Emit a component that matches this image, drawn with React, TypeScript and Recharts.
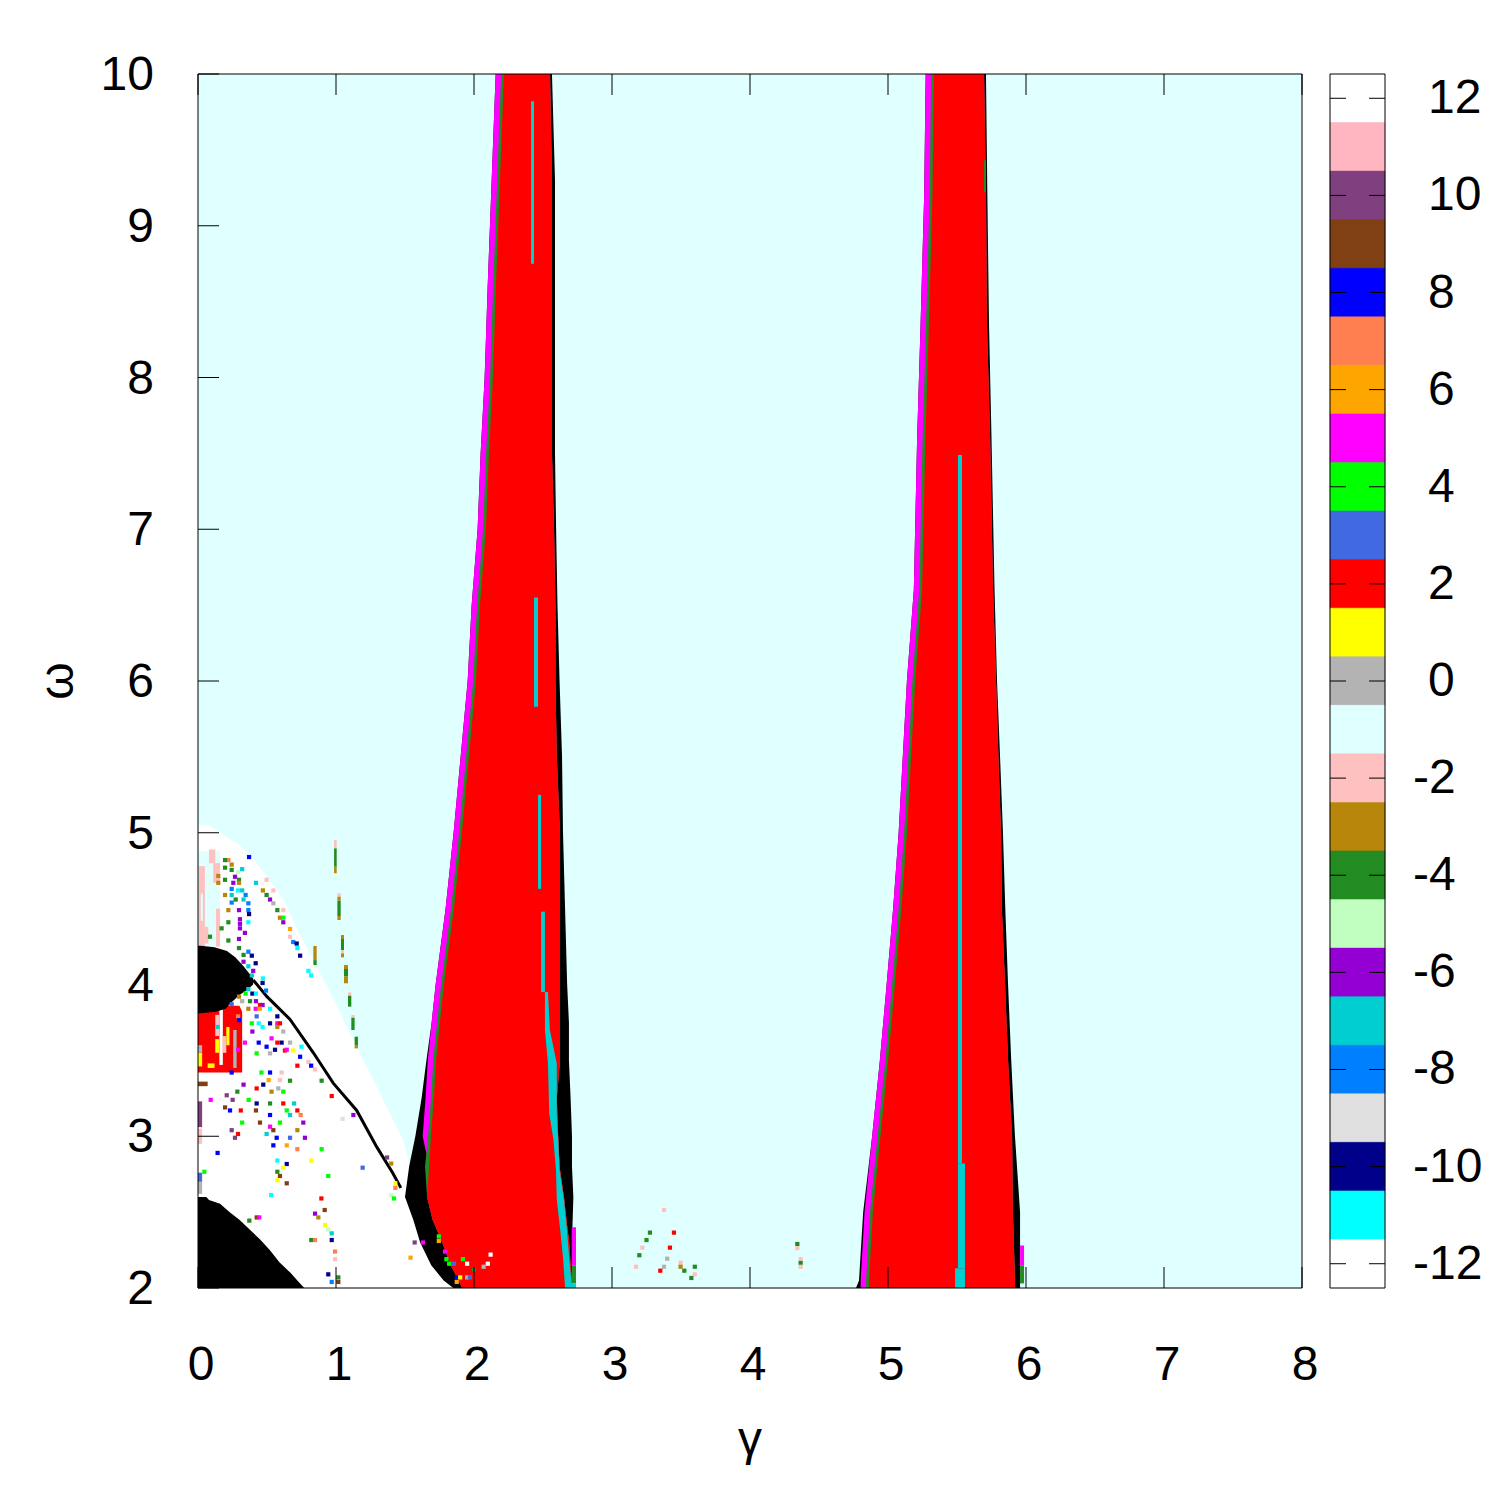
import React from 'react';
import { ComposedChart, Area, Line, Scatter, XAxis, YAxis, BarChart, Bar, Cell } from 'recharts';

const FONT = '"Liberation Sans", Arial, Helvetica, sans-serif';

const xTicks = [0, 1, 2, 3, 4, 5, 6, 7, 8];
const yTicks = [2, 3, 4, 5, 6, 7, 8, 9, 10];

// colour-bar values and their colours
const paletteValues = [12, 11, 10, 9, 8, 7, 6, 5, 4, 3, 2, 1, 0, -1, -2, -3, -4, -5, -6, -7, -8, -9, -10, -11, -12];
const paletteColors = ['#ffffff', '#ffb6c1', '#804080', '#804014', '#0000ff', '#ff7f50', '#ffa500', '#ff00ff', '#00ff00', '#4169e1', '#ff0000', '#ffff00', '#b3b3b3', '#e0ffff', '#ffc0c0', '#b8860b', '#228b22', '#c0ffc0', '#9400d3', '#00ced1', '#0080ff', '#e0e0e0', '#00008b', '#00ffff', '#ffffff'];
const OUT = 99; // value outside the colour range, drawn black
const colorOf = (v: number) => {
  const i = paletteValues.indexOf(v);
  return i >= 0 ? paletteColors[i] : '#000000';
};

// ---- regions: rows of omega with gamma extent [lo, hi] ----
const bgOmega = [10, 2];
const bgLo = [0, 0];
const bgHi = [8, 8];

const whiteOmega = [5.05, 5.0, 4.92, 4.83, 4.71, 4.56, 4.36, 4.21, 4.03, 3.85, 3.68, 3.5, 3.32, 3.15, 2.97, 2.82, 2.6, 2.0];
const whiteLo = [0, 0, 0, 0, 0, 0, 0, 0, 0, 0, 0, 0, 0, 0, 0, 0, 0, 0];
const whiteHi = [0.08, 0.16, 0.3, 0.4, 0.5, 0.62, 0.72, 0.81, 0.91, 1.01, 1.1, 1.2, 1.3, 1.39, 1.49, 1.53, 1.62, 1.95];

const patchOmega = [4.88, 4.25];
const patchLo = [0, 0];
const patchHi = [0.16, 0.16];

const triOmega = [2.6, 2.58, 2.555, 2.5, 2.45, 2.38, 2.32, 2.25, 2.17, 2.1, 2.05, 2.0];
const triLo = [0, 0, 0, 0, 0, 0, 0, 0, 0, 0, 0, 0];
const triHi = [0.06, 0.08, 0.16, 0.23, 0.3, 0.38, 0.45, 0.52, 0.59, 0.67, 0.72, 0.77];

const redPatchOmega = [3.86, 3.82, 3.42];
const redPatchLo = [0.13, 0, 0];
const redPatchHi = [0.3, 0.32, 0.32];

const blobOmega = [4.255, 4.245, 4.22, 4.18, 4.12, 4.04, 4.0, 3.96, 3.93, 3.88, 3.84, 3.82, 3.81];
const blobLo = [0, 0, 0, 0, 0, 0, 0, 0, 0, 0, 0, 0, 0];
const blobHi = [0.02, 0.12, 0.21, 0.27, 0.33, 0.4, 0.4, 0.35, 0.3, 0.24, 0.2, 0.13, 0.02];

// first tongue
const w1Omega = [10, 9.3, 8.6, 8.0, 7.5, 7.0, 6.5, 6.0, 5.5, 5.0, 4.5, 4.0, 3.75, 3.5, 3.25, 3.0, 2.8, 2.6, 2.45, 2.3, 2.15, 2.05, 2.0];
const w1BlackL = [2.157, 2.128, 2.099, 2.077, 2.048, 2.026, 1.983, 1.954, 1.903, 1.852, 1.794, 1.722, 1.693, 1.655, 1.62, 1.575, 1.53, 1.5, 1.56, 1.61, 1.69, 1.78, 1.85];
const w1MagL = [2.157, 2.128, 2.099, 2.077, 2.048, 2.026, 1.983, 1.954, 1.903, 1.852, 1.794, 1.722, 1.693, 1.665, 1.649, 1.628, 1.675, 1.66, 1.7, 1.77, 1.83, 1.89, 1.913];
const w1GreenL = [2.197, 2.168, 2.139, 2.117, 2.088, 2.066, 2.023, 1.994, 1.943, 1.892, 1.834, 1.762, 1.733, 1.705, 1.689, 1.668, 1.645, 1.66, 1.7, 1.77, 1.83, 1.89, 1.913];
const w1RedL = [2.217, 2.188, 2.159, 2.137, 2.108, 2.086, 2.043, 2.014, 1.963, 1.912, 1.854, 1.782, 1.753, 1.725, 1.709, 1.688, 1.675, 1.66, 1.7, 1.77, 1.83, 1.89, 1.913];
const w1RedR = [2.551, 2.565, 2.565, 2.565, 2.565, 2.58, 2.59, 2.59, 2.6, 2.623, 2.623, 2.623, 2.623, 2.623, 2.6, 2.61, 2.62, 2.652, 2.67, 2.69, 2.7, 2.71, 2.71];
const w1BlackR = [2.565, 2.587, 2.587, 2.587, 2.587, 2.595, 2.605, 2.62, 2.638, 2.645, 2.66, 2.675, 2.688, 2.688, 2.7, 2.71, 2.71, 2.72, 2.715, 2.71, 2.71, 2.71, 2.71];
const w1TealOmega = [3.95, 3.7, 3.48, 3.15, 2.98, 2.78, 2.58, 2.38, 2.2, 2.0];
const w1TealL = [2.514, 2.514, 2.536, 2.545, 2.575, 2.594, 2.6, 2.625, 2.645, 2.66];
const w1TealR = [2.536, 2.55, 2.6, 2.6, 2.61, 2.62, 2.652, 2.674, 2.69, 2.71];

// second tongue
const w2Omega = [10, 9.2, 8.35, 7.6, 6.6, 6.0, 5.5, 5.0, 4.5, 4.0, 3.5, 3.0, 2.5, 2.05, 2.0];
const w2BlackL = [5.273, 5.262, 5.236, 5.211, 5.187, 5.137, 5.107, 5.077, 5.037, 4.99, 4.941, 4.885, 4.82, 4.79, 4.768];
const w2MagL = [5.273, 5.262, 5.236, 5.211, 5.187, 5.137, 5.107, 5.077, 5.037, 4.99, 4.941, 4.885, 4.83, 4.802, 4.802];
const w2GreenL = [5.313, 5.302, 5.276, 5.251, 5.227, 5.177, 5.147, 5.117, 5.077, 5.03, 4.981, 4.925, 4.87, 4.842, 4.842];
const w2RedL = [5.333, 5.322, 5.296, 5.271, 5.247, 5.197, 5.167, 5.137, 5.097, 5.05, 5.001, 4.945, 4.89, 4.862, 4.862];
const w2RedR = [5.696, 5.71, 5.717, 5.74, 5.761, 5.783, 5.8, 5.819, 5.825, 5.848, 5.87, 5.899, 5.905, 5.92, 5.92];
const w2BlackR = [5.71, 5.72, 5.732, 5.75, 5.772, 5.79, 5.812, 5.833, 5.85, 5.87, 5.893, 5.92, 5.957, 5.957, 5.957];

// rectangular streaks: [gamma1, gamma2, omega1, omega2, value]
const patchStreaks = [
  [0.005, 0.05, 4.25, 4.78, -2], [0.08, 0.125, 4.8, 4.89, -2], [0.11, 0.16, 4.67, 4.8, -2],
  [0.13, 0.16, 4.25, 4.5, -2], [0.05, 0.075, 4.27, 4.38, -2], [0.02, 0.035, 4.42, 4.6, -1],
];
const redPatchStreaks = [
  [0.155, 0.18, 3.47, 3.84, -12], [0.125, 0.155, 3.66, 3.8, -2], [0.125, 0.155, 3.55, 3.64, 1],
  [0.205, 0.228, 3.6, 3.72, 1], [0.255, 0.28, 3.45, 3.7, 0], [0.18, 0.205, 3.55, 3.66, -2],
  [0.0, 0.03, 3.46, 3.55, 1], [0.0, 0.03, 3.55, 3.6, 0], [0.07, 0.12, 3.45, 3.48, 1],
];
const edgeStreaks = [
  [0.0, 0.03, 3.06, 3.23, 10], [0.0, 0.03, 2.95, 3.05, -2], [0.0, 0.07, 3.33, 3.36, 9],
  [0.0, 0.03, 2.62, 2.7, 0], [0.0, 0.03, 2.7, 2.76, 3],
];
const dashStreaks = [
  [0.986, 1.005, 4.897, 4.952, -2], [0.986, 1.005, 4.776, 4.897, -4], [0.986, 1.005, 4.733, 4.776, -3],
  [1.01, 1.034, 4.579, 4.601, -2], [1.01, 1.034, 4.552, 4.579, -3], [1.01, 1.034, 4.451, 4.552, -4], [1.01, 1.034, 4.425, 4.451, -3],
  [1.036, 1.058, 4.3, 4.326, -3], [1.036, 1.058, 4.227, 4.3, -4], [1.036, 1.058, 4.205, 4.227, -2], [1.036, 1.058, 4.179, 4.205, -3],
  [0.836, 0.86, 4.161, 4.254, -3], [0.836, 0.86, 4.128, 4.161, -4],
  [1.058, 1.087, 4.102, 4.128, -3], [1.058, 1.087, 4.052, 4.102, -4], [1.058, 1.087, 4.008, 4.052, -3],
  [1.087, 1.111, 3.926, 3.948, -2], [1.087, 1.111, 3.854, 3.926, -4],
  [1.111, 1.135, 3.781, 3.799, -2], [1.111, 1.135, 3.7, 3.781, -4],
  [1.135, 1.159, 3.601, 3.656, -4], [1.135, 1.159, 3.579, 3.601, -3],
];
const tongueStreaks = [
  [2.413, 2.435, 8.75, 9.82, -7], [2.435, 2.464, 5.83, 6.55, -7], [2.464, 2.486, 4.63, 5.25, -7], [2.486, 2.514, 3.95, 4.48, -7],
  [2.708, 2.739, 2.15, 2.4, 5], [2.708, 2.739, 2.03, 2.15, -4], [2.68, 2.739, 2.0, 2.03, -7],
  [5.507, 5.536, 2.82, 7.49, -7], [5.507, 5.558, 2.13, 2.82, -7], [5.486, 5.558, 2.0, 2.13, -7],
  [5.696, 5.71, 9.22, 9.43, -4], [5.957, 5.986, 2.15, 2.28, 5], [5.957, 5.986, 2.03, 2.15, -4],
];

// thin black curve
const lineOmega = [4.03, 3.92, 3.77, 3.55, 3.35, 3.17, 2.93, 2.76, 2.66];
const lineGamma = [0.4, 0.5, 0.667, 0.836, 0.98, 1.15, 1.295, 1.41, 1.47];

// isolated cells: [gamma, omega, value]
const cells = [
  [0.37, 4.84, 8], [0.22, 4.82, 7], [0.196, 4.82, -4], [0.244, 4.79, -3], [0.196, 4.77, -4], [0.244, 4.755, -4], [0.29, 4.74, -5], [0.32, 4.76, -7],
  [0.268, 4.71, -6], [0.147, 4.715, -3], [0.196, 4.69, -4], [0.297, 4.69, -4], [0.42, 4.67, -7], [0.497, 4.69, -2], [0.147, 4.67, -3], [0.256, 4.67, -6],
  [0.297, 4.67, -3], [0.244, 4.63, -8], [0.29, 4.62, -11], [0.32, 4.62, -7], [0.47, 4.62, -3], [0.546, 4.62, -2], [0.244, 4.59, -7], [0.345, 4.59, -8],
  [0.196, 4.59, -3], [0.497, 4.59, -4], [0.522, 4.56, -6], [0.273, 4.56, -4], [0.33, 4.56, -7], [0.365, 4.535, -8], [0.244, 4.54, -8], [0.546, 4.535, 0],
  [0.297, 4.49, -6], [0.365, 4.49, -8], [0.22, 4.49, -3], [0.575, 4.49, -4], [0.618, 4.49, -2], [0.37, 4.464, -10], [0.594, 4.44, -3], [0.618, 4.44, 4],
  [0.304, 4.43, -6], [0.365, 4.41, -11], [0.618, 4.41, -6], [0.304, 4.4, -6], [0.22, 4.41, -4], [0.667, 4.366, 6], [0.304, 4.37, -6], [0.34, 4.34, -6],
  [0.171, 4.37, -4], [0.667, 4.315, -2], [0.087, 4.315, -4], [0.297, 4.3, -6], [0.22, 4.29, -4], [0.69, 4.28, -8], [0.715, 4.27, -10], [0.72, 4.24, -11],
  [0.297, 4.24, -4], [0.365, 4.216, -8], [0.33, 4.195, -4], [0.39, 4.19, -10], [0.74, 4.19, -10], [0.33, 4.15, -6], [0.365, 4.12, -7], [0.418, 4.14, -10],
  [0.4, 4.09, -6], [0.8, 4.09, -11], [0.82, 4.06, -11], [0.39, 4.06, -7], [0.47, 4.04, -11], [0.468, 4.01, -10], [0.493, 3.96, -8], [0.365, 3.97, -7],
  [0.345, 3.94, 4], [0.394, 3.94, -10], [0.42, 3.94, -11], [0.297, 3.92, -3], [0.32, 3.89, 0], [0.377, 3.89, -4], [0.42, 3.89, -6], [0.244, 3.87, 3],
  [0.449, 3.865, 2], [0.468, 3.865, -6], [0.365, 3.84, -3], [0.418, 3.84, 5], [0.522, 3.84, -11], [0.449, 3.84, 6], [0.29, 3.79, 7], [0.425, 3.79, 3],
  [0.575, 3.79, -10], [0.297, 3.765, 8], [0.39, 3.744, 4], [0.44, 3.744, -11], [0.522, 3.744, -10], [0.575, 3.744, 5], [0.594, 3.744, 2], [0.142, 3.72, -7],
  [0.468, 3.72, -11], [0.575, 3.72, -3], [0.394, 3.69, -6], [0.618, 3.69, 0], [0.533, 3.645, 5], [0.575, 3.617, 2], [0.606, 3.617, -10], [0.34, 3.617, 5],
  [0.44, 3.617, 8], [0.667, 3.617, 0], [0.497, 3.59, 8], [0.63, 3.565, 2], [0.75, 3.59, -11], [0.29, 3.57, 5], [0.558, 3.57, -10], [0.643, 3.57, 5],
  [0.69, 3.565, 1], [0.425, 3.546, 4], [0.522, 3.546, 0],
  [0.74, 3.524, 8], [0.8, 3.49, -2], [0.72, 3.465, 2], [0.848, 3.44, -2], [0.82, 3.465, 8], [0.244, 3.42, 8], [0.46, 3.42, 4], [0.522, 3.42, 8],
  [0.606, 3.42, -2], [0.667, 3.366, -4], [0.594, 3.37, -2], [0.512, 3.37, 6], [0.473, 3.34, -10], [0.896, 3.366, -4], [0.33, 3.34, -6], [0.425, 3.315, 2],
  [0.582, 3.315, 0], [0.285, 3.294, -4], [0.533, 3.294, -3], [0.618, 3.294, 4], [0.092, 3.24, 5], [0.208, 3.27, 10], [0.367, 3.24, 4], [0.251, 3.24, 10],
  [0.969, 3.265, 2], [0.425, 3.216, -10], [0.522, 3.216, -4], [0.618, 3.216, 2], [0.696, 3.216, -7], [0.196, 3.19, 9], [0.232, 3.17, 8], [0.31, 3.17, 2],
  [0.42, 3.17, 9], [0.643, 3.17, 4], [0.72, 3.17, 2], [1.126, 3.14, -6], [1.048, 3.114, -9], [0.522, 3.14, 8], [0.667, 3.14, -7], [0.744, 3.14, 7],
  [0.763, 3.09, -6], [0.594, 3.09, 4], [0.449, 3.09, 9], [0.32, 3.09, 4], [0.522, 3.063, 5], [0.244, 3.04, 10], [0.546, 3.04, 9], [0.72, 3.04, -3],
  [0.29, 3.015, 2], [0.497, 3.015, -7], [0.57, 2.99, 8], [0.667, 2.99, 3], [0.775, 2.99, -6], [0.268, 2.99, 10], [0.546, 2.94, 8], [0.643, 2.94, 6],
  [0.72, 2.915, 7], [0.896, 2.915, 4], [0.142, 2.89, 8], [0.575, 2.84, -11], [0.643, 2.817, -10], [0.821, 2.84, 1], [0.618, 2.793, 1], [0.046, 2.766, 4],
  [0.575, 2.766, -4], [0.944, 2.738, 4], [1.193, 2.793, 3], [0.594, 2.738, 9], [0.575, 2.71, 1], [0.643, 2.69, 9], [0.53, 2.613, -11], [0.894, 2.59, 2],
  [0.918, 2.514, 9], [0.848, 2.49, -6], [0.872, 2.465, -3], [0.425, 2.465, 9], [0.444, 2.465, 5], [0.372, 2.444, -4], [0.92, 2.415, 1], [0.944, 2.386, -5],
  [0.969, 2.36, -7], [0.821, 2.316, -4], [0.848, 2.316, 7], [0.969, 2.316, -10], [0.993, 2.24, 7], [0.993, 2.19, -2], [0.944, 2.09, -10], [0.969, 2.04, -8],
  [1.017, 2.07, -4], [1.017, 2.04, 9],
  [2.12, 2.22, -12], [1.95, 2.16, -12], [2.1, 2.16, -12], [2.07, 2.14, 0], [1.92, 2.19, 4], [1.8, 2.19, 4], [1.82, 2.16, 4], [1.855, 2.16, 3],
  [1.79, 2.24, 5], [1.745, 2.34, 4], [1.745, 2.31, 6], [1.63, 2.3, 5], [1.57, 2.3, 10], [1.54, 2.2, 6], [2.0, 2.12, -4], [1.875, 2.07, 8],
  [1.9, 2.07, 1], [1.95, 2.07, 0], [1.97, 2.07, 3], [1.875, 2.04, 6], [1.43, 2.69, 1], [1.43, 2.66, 7], [1.4, 2.61, -5], [1.42, 2.59, 4],
  [1.4, 2.82, -3], [1.37, 2.86, 10],
  [3.377, 2.514, -2], [3.275, 2.365, -4], [3.449, 2.365, 2], [3.25, 2.316, -4], [3.22, 2.266, -2], [3.42, 2.266, 2], [3.198, 2.216, -4], [3.4, 2.193, 0],
  [3.174, 2.14, -2], [3.377, 2.14, 0], [3.497, 2.167, -2], [3.497, 2.14, -3], [3.524, 2.114, -4], [3.6, 2.14, -4], [3.6, 2.09, -2], [3.575, 2.066, -4],
  [3.35, 2.114, 2], [4.343, 2.29, -4], [4.343, 2.263, -2], [4.367, 2.19, -2], [4.367, 2.165, -4], [4.367, 2.14, -2],
];

// ---- table builders ----
const bandData = (omega: number[], lo: number[], hi: number[]) => omega.map((w, i) => ({ w, r: [lo[i], hi[i]] }));
const rectData = (s: number[]) => [{ w: s[3], r: [s[0], s[1]] }, { w: s[2], r: [s[0], s[1]] }];

const band = (key: string, data: any[], v: number) => (
  <Area
    key={key}
    data={data}
    dataKey="r"
    type="linear"
    fill={colorOf(v)}
    fillOpacity={1}
    stroke="none"
    dot={false}
    activeDot={false}
    isAnimationActive={false}
    xAxisId={0}
    yAxisId={0}
  />
);

const streakBands = (prefix: string, list: number[][]) => list.map((s, i) => band(prefix + i, rectData(s), s[4]));

const lineData = lineOmega.map((w, i) => ({ w, g: lineGamma[i] }));
const cellData = cells.map(([g, w, v]) => ({ g, w, v }));

const TICK = 21;
const FS = 48;

const BottomTick = (p: any) => (
  <g>
    <line x1={p.x} x2={p.x} y1={p.y} y2={p.y - TICK} stroke="#000" strokeWidth={1} />
    <text x={p.x + 3} y={p.y + 92} textAnchor="middle" fontSize={FS} fontFamily={FONT} fill="#000">{p.payload.value}</text>
  </g>
);
const TopTick = (p: any) => <line x1={p.x} x2={p.x} y1={p.y} y2={p.y + TICK} stroke="#000" strokeWidth={1} />;
const LeftTick = (p: any) => (
  <g>
    <line x1={p.x} x2={p.x + TICK} y1={p.y} y2={p.y} stroke="#000" strokeWidth={1} />
    <text x={p.x - 44} y={p.y + 16} textAnchor="end" fontSize={FS} fontFamily={FONT} fill="#000">{p.payload.value}</text>
  </g>
);
const RightTick = (p: any) => <line x1={p.x} x2={p.x - TICK} y1={p.y} y2={p.y} stroke="#000" strokeWidth={1} />;

const CbLeftTick = (p: any) =>
  Number(p.payload.value) % 2 === 0 ? <line x1={p.x} x2={p.x + 16} y1={p.y} y2={p.y} stroke="#000" strokeWidth={1} /> : <g />;
const CbRightTick = (p: any) => {
  const v = Number(p.payload.value);
  if (v % 2 !== 0) return <g />;
  return (
    <g>
      <line x1={p.x} x2={p.x - 16} y1={p.y} y2={p.y} stroke="#000" strokeWidth={1} />
      <text x={p.x + (v < 0 ? 28 : 43)} y={p.y + 15} textAnchor="start" fontSize={FS} fontFamily={FONT} fill="#000">{v}</text>
    </g>
  );
};

const cbRows = paletteValues.map((v) => ({ v, one: 1 }));

const axisLine = { stroke: '#000', strokeWidth: 1 };

export default function App() {
  return (
    <div style={{ position: 'absolute', left: 0, top: 0, width: 1500, height: 1500, background: '#fff', fontFamily: FONT }}>
      <div style={{ position: 'absolute', left: 0, top: 0 }}>
        <ComposedChart
          width={1500}
          height={1500}
          layout="vertical"
          margin={{ top: 73, right: 197, bottom: 211, left: 197 }}
        >
          <XAxis xAxisId={0} type="number" dataKey="g" domain={[0, 8]} ticks={xTicks} allowDataOverflow orientation="bottom"
            height={1} tickSize={0} tickMargin={0} tickLine={false} axisLine={axisLine} interval={0} tick={(p: any) => <BottomTick {...p} />} />
          <XAxis xAxisId="top" type="number" domain={[0, 8]} ticks={xTicks} allowDataOverflow orientation="top"
            height={1} tickSize={0} tickMargin={0} tickLine={false} axisLine={axisLine} interval={0} tick={(p: any) => <TopTick {...p} />} />
          <YAxis yAxisId={0} type="number" dataKey="w" domain={[2, 10]} ticks={yTicks} allowDataOverflow reversed orientation="left"
            width={1} tickSize={0} tickMargin={0} tickLine={false} axisLine={axisLine} interval={0} tick={(p: any) => <LeftTick {...p} />} />
          <YAxis yAxisId="right" type="number" domain={[2, 10]} ticks={yTicks} allowDataOverflow reversed orientation="right"
            width={1} tickSize={0} tickMargin={0} tickLine={false} axisLine={axisLine} interval={0} tick={(p: any) => <RightTick {...p} />} />

          {band('bg', bandData(bgOmega, bgLo, bgHi), -1)}
          {band('white', bandData(whiteOmega, whiteLo, whiteHi), -12)}
          {band('patch', bandData(patchOmega, patchLo, patchHi), -1)}
          {streakBands('ps', patchStreaks)}
          {band('tri', bandData(triOmega, triLo, triHi), OUT)}
          {band('redpatch', bandData(redPatchOmega, redPatchLo, redPatchHi), 2)}
          {streakBands('rs', redPatchStreaks)}
          {band('blob', bandData(blobOmega, blobLo, blobHi), OUT)}
          {streakBands('es', edgeStreaks)}
          {streakBands('ds', dashStreaks)}

          {band('w1b', bandData(w1Omega, w1BlackL, w1BlackR), OUT)}
          {band('w1m', bandData(w1Omega, w1MagL, w1RedR), 5)}
          {band('w1g', bandData(w1Omega, w1GreenL, w1RedR), -4)}
          {band('w1r', bandData(w1Omega, w1RedL, w1RedR), 2)}
          {band('w1t', bandData(w1TealOmega, w1TealL, w1TealR), -7)}

          {band('w2b', bandData(w2Omega, w2BlackL, w2BlackR), OUT)}
          {band('w2m', bandData(w2Omega, w2MagL, w2RedR), 5)}
          {band('w2g', bandData(w2Omega, w2GreenL, w2RedR), -4)}
          {band('w2r', bandData(w2Omega, w2RedL, w2RedR), 2)}
          {streakBands('ts', tongueStreaks)}

          <Line data={lineData} dataKey="g" type="linear" stroke="#000" strokeWidth={3} dot={false} activeDot={false}
            isAnimationActive={false} xAxisId={0} yAxisId={0} />
          <Scatter data={cellData} xAxisId={0} yAxisId={0} isAnimationActive={false}
            shape={(p: any) => <rect x={p.cx - 2.1} y={p.cy - 2.1} width={4.2} height={4.2} fill={colorOf(p.payload.v)} />} />
        </ComposedChart>
      </div>

      <div style={{ position: 'absolute', left: 0, top: 0 }}>
        <BarChart width={1500} height={1500} layout="vertical" data={cbRows}
          margin={{ top: 73, right: 114, bottom: 211, left: 1329 }} barCategoryGap={0} barGap={0}>
          <XAxis xAxisId="b" type="number" domain={[0, 1]} orientation="bottom" height={1} tick={false} tickLine={false} axisLine={axisLine} />
          <XAxis xAxisId="t" type="number" domain={[0, 1]} orientation="top" height={1} tick={false} tickLine={false} axisLine={axisLine} />
          <YAxis yAxisId="l" type="category" dataKey="v" orientation="left" width={1} tickSize={0} tickMargin={0} tickLine={false}
            axisLine={axisLine} interval={0} tick={(p: any) => <CbLeftTick {...p} />} />
          <YAxis yAxisId="r" type="category" dataKey="v" orientation="right" width={1} tickSize={0} tickMargin={0} tickLine={false}
            axisLine={axisLine} interval={0} tick={(p: any) => <CbRightTick {...p} />} />
          <Bar xAxisId="b" yAxisId="l" dataKey="one" isAnimationActive={false}>
            {cbRows.map((r) => (
              <Cell key={r.v} fill={colorOf(r.v)} stroke={colorOf(r.v)} strokeWidth={0.5} />
            ))}
          </Bar>
        </BarChart>
      </div>

      <svg style={{ position: 'absolute', left: 0, top: 0, pointerEvents: 'none' }} width={1500} height={1500}>
        <text x={750} y={1455} textAnchor="middle" fontSize={FS} fontFamily={FONT} fill="#000">γ</text>
        <text x={73} y={681} textAnchor="middle" fontSize={FS} fontFamily={FONT} fill="#000" transform="rotate(-90 73 681)">ω</text>
      </svg>
    </div>
  );
}
